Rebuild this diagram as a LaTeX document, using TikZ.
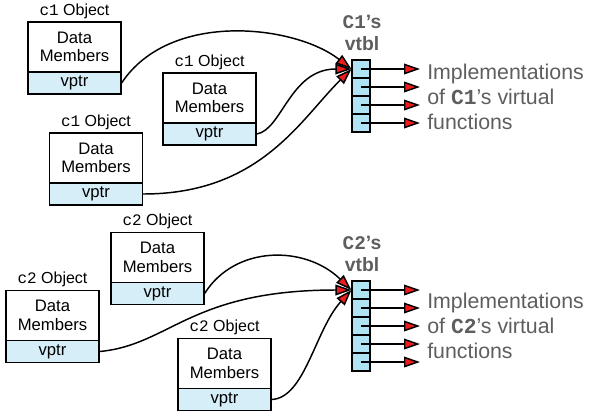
\documentclass[tikz,border=0pt]{standalone}
\usepackage{fontspec}
\setmainfont{Liberation Sans}
\setmonofont{Liberation Mono}
\usetikzlibrary{arrows.meta,positioning}
\definecolor{ptrblue}{HTML}{D6EEF8}
\definecolor{tblblue}{HTML}{B0E4F4}
\definecolor{tipred}{HTML}{EE1C1C}
\definecolor{txtgray}{HTML}{5E5E5E}
\tikzset{VT style/.style={>={Triangle[fill=tipred,length=12pt,width=8pt]},
	data/.style={draw, line width=0.9pt, minimum width=69.75pt, minimum height=37.5pt, inner sep=0pt, align=center, font=\fontsize{12.5}{13.8}\selectfont},
	ptr/.style={draw, fill=ptrblue, line width=0.9pt, minimum width=69.75pt, minimum height=16.5pt, inner sep=0pt, font=\fontsize{12.5}{13.8}\selectfont},
	objlbl/.style={inner sep=1pt, font=\fontsize{12}{13.5}\selectfont},
	cell/.style={draw, fill=tblblue, line width=0.9pt, minimum size=13.5pt, inner sep=0pt},
	tbllbl/.style={text=txtgray, align=center, font=\bfseries\fontsize{14.5}{16}\selectfont},
	impl/.style={text=txtgray, align=left, anchor=west, inner sep=0pt, font=\fontsize{16}{19}\selectfont},
	link/.style={->, line width=1.1pt}}}
\newcommand{\cname}[1]{{\ttfamily #1}}

\begin{document}
\begin{tikzpicture}[VT style, x=0.75pt, y=-0.75pt]
	\useasboundingbox (0,0) rectangle (591,415);
	
	% c1 objects
	\node[data] (d1) at (74.5,47) {Data\\Members};
	\node[ptr, below=-0.9pt of d1] (p1) {vptr};
	\node[objlbl, above=1pt of d1] (l1) {\cname{c1} Object};
	
	\node[data] (d2) at (209.5,98) {Data\\Members};
	\node[ptr, below=-0.9pt of d2] (p2) {vptr};
	\node[objlbl, above=1pt of d2] (l2) {\cname{c1} Object};
	
	\node[data] (d3) at (96,158) {Data\\Members};
	\node[ptr, below=-0.9pt of d3] (p3) {vptr};
	\node[objlbl, above=1pt of d3] (l3) {\cname{c1} Object};
	
	% c2 objects
	\node[data] (d4) at (157.5,257.5) {Data\\Members};
	\node[ptr, below=-0.9pt of d4] (p4) {vptr};
	\node[objlbl, above=1pt of d4] (l4) {\cname{c2} Object};
	
	\node[data] (d5) at (52.5,315.5) {Data\\Members};
	\node[ptr, below=-0.9pt of d5] (p5) {vptr};
	\node[objlbl, above=1pt of d5] (l5) {\cname{c2} Object};
	
	\node[data] (d6) at (224.5,363.5) {Data\\Members};
	\node[ptr, below=-0.9pt of d6] (p6) {vptr};
	\node[objlbl, above=1pt of d6] (l6) {\cname{c2} Object};
	
	% C1 vtbl
	\node[tbllbl] (v1) at (362,33) {\cname{C1}’s\\vtbl};
	\node[cell] (t11) at (361,69) {};
	\node[cell] (t12) at (361,87) {};
	\node[cell] (t13) at (361,105) {};
	\node[cell] (t14) at (361,123) {};
	\coordinate (f11) at (420,69);
	\coordinate (f12) at (420,87);
	\coordinate (f13) at (420,105);
	\coordinate (f14) at (420,123);
	\node[impl] (i1) at (427,97) {Implementations\\of \textbf{\cname{C1}}’s virtual\\functions};
	
	% C2 vtbl
	\node[tbllbl] (v2) at (362,254) {\cname{C2}’s\\vtbl};
	\node[cell] (t21) at (361,290) {};
	\node[cell] (t22) at (361,308) {};
	\node[cell] (t23) at (361,326) {};
	\node[cell] (t24) at (361,344) {};
	\node[cell] (t25) at (361,362) {};
	\coordinate (f21) at (420,290);
	\coordinate (f22) at (420,308);
	\coordinate (f23) at (420,326);
	\coordinate (f24) at (420,344);
	\coordinate (f25) at (420,362);
	\node[impl] (i2) at (427,326) {Implementations\\of \textbf{\cname{C2}}’s virtual\\functions};
	
	\draw[link] (t11.center) -- (f11);
	\draw[link] (t12.center) -- (f12);
	\draw[link] (t13.center) -- (f13);
	\draw[link] (t14.center) -- (f14);
	
	\draw[link] (t21.center) -- (f21);
	\draw[link] (t22.center) -- (f22);
	\draw[link] (t23.center) -- (f23);
	\draw[link] (t24.center) -- (f24);
	\draw[link] (t25.center) -- (f25);
	
	\draw[link] (p1.east) .. controls (170,10) and (295,25) .. (t11.west);
	\draw[link] (p2.east) .. controls (282,130) and (290,69) .. (t11.west);
	\draw[link] (p3.east) .. controls (260,194) and (300,120) .. (t11.west);
	
	\draw[link] (p4.east) .. controls (235,245) and (305,245) .. (t21.west);
	\draw[link] (p5.east) .. controls (170,345) and (190,290) .. (t21.west);
	\draw[link] (p6.east) .. controls (305,398) and (315,330) .. (t21.west);
\end{tikzpicture}
\end{document}
